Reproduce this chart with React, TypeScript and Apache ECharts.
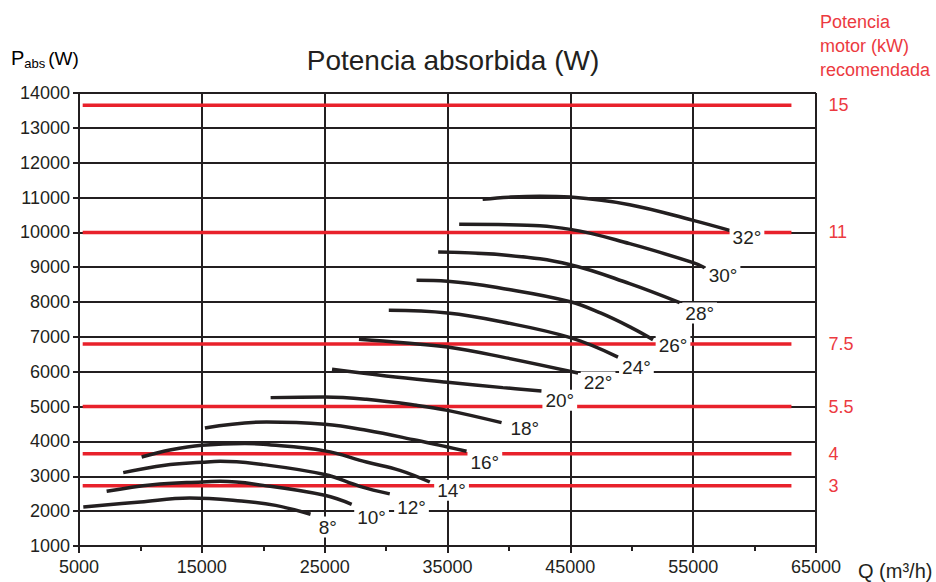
import React, { useEffect, useRef } from 'react';
import * as echarts from 'echarts';

// ---- data ----
const curveNames = ['8°', '10°', '12°', '14°', '16°', '18°', '20°', '22°', '24°', '26°', '28°', '30°', '32°'];

const curve8 = [[5350, 2120], [10000, 2265], [14000, 2375], [18200, 2290], [21000, 2165], [23850, 1910]];
const curve10 = [[7250, 2570], [11000, 2760], [15000, 2840], [16500, 2855], [20000, 2740], [25000, 2455], [27200, 2196]];
const curve12 = [[8600, 3106], [12000, 3320], [15000, 3400], [16500, 3430], [20000, 3335], [25000, 3050], [27860, 2713], [30300, 2495]];
const curve14 = [[10100, 3553], [12500, 3760], [15000, 3889], [18500, 3940], [20000, 3918], [25000, 3730], [28400, 3410], [31120, 3172], [33560, 2836]];
const curve16 = [[15250, 4386], [20270, 4558], [25000, 4492], [28400, 4320], [32480, 4033], [35000, 3840], [36550, 3717]];
const curve18 = [[20600, 5258], [25000, 5275], [28400, 5209], [32480, 5037], [35000, 4893], [39400, 4540]];
const curve20 = [[25600, 6070], [30000, 5880], [35000, 5700], [39500, 5545], [42650, 5447]];
const curve22 = [[27790, 6930], [31400, 6830], [35000, 6710], [39500, 6420], [45630, 5963]];
const curve24 = [[30220, 7762], [35000, 7685], [39500, 7427], [45000, 6979], [48880, 6422]];
const curve26 = [[32480, 8623], [35000, 8600], [40000, 8360], [45000, 8010], [47500, 7680], [50000, 7260], [51730, 6922]];
const curve28 = [[34240, 9435], [40000, 9340], [45000, 9073], [49830, 8528], [53900, 7983]];
const curve30 = [[35950, 10230], [40000, 10220], [45000, 10086], [49830, 9676], [55000, 9131], [55940, 8987]];
const curve32 = [[37860, 10950], [40000, 11010], [42500, 11040], [45000, 11013], [49830, 10795], [55000, 10344], [57970, 10057]];

const curves = [curve8, curve10, curve12, curve14, curve16, curve18, curve20, curve22, curve24, curve26, curve28, curve30, curve32];

// label anchor points (Q, P) for each curve label
const labelPoints = [
  [25260, 1545], [28820, 1832], [32070, 2119], [35330, 2598], [38040, 3410], [41290, 4368],
  [44140, 5180], [47260, 5705], [50380, 6136], [53360, 6758], [55530, 7685], [57430, 8766], [59380, 9865],
];

// recommended motor power (kW) and their absorbed-power levels (W)
const motorPowers = ['15', '11', '7.5', '5.5', '4', '3'];
const motorLevels = [13650, 10000, 6800, 5000, 3650, 2730];
const motorLineQ = [5300, 63000];

const xMin = 5000;
const xMax = 65000;
const xStep = 10000;
const yMin = 1000;
const yMax = 14000;
const yStep = 1000;

const BLACK = '#231f20';
const RED = '#e8212b';
const RED_TEXT = '#ec3a3f';
const FONT = '"Liberation Sans", Arial, Helvetica, sans-serif';

export default function App() {
  const ref = useRef<HTMLDivElement>(null);

  useEffect(() => {
    if (!ref.current) return;
    const chart = echarts.init(ref.current, null, { renderer: 'svg' });

    const redSeries = motorLevels.map((v, i) => ({
      type: 'line',
      data: [[motorLineQ[0], v], [motorLineQ[1], v]],
      symbol: 'none',
      silent: true,
      z: 2,
      lineStyle: { color: RED, width: 3.5 },
      endLabel: {
        show: true,
        formatter: motorPowers[i],
        color: RED_TEXT,
        fontSize: 18,
        fontFamily: FONT,
        distance: 37,
        align: 'left',
      },
    }));

    const curveSeries = curves.map((c, i) => ({
      type: 'line',
      name: curveNames[i],
      data: c,
      smooth: 0.4,
      symbol: 'none',
      silent: true,
      z: 3,
      lineStyle: { color: BLACK, width: 3.5 },
    }));

    const labelSeries = {
      type: 'scatter',
      data: labelPoints.map((p, i) => ({ value: p, name: curveNames[i] })),
      symbolSize: 1,
      itemStyle: { color: 'rgba(255,255,255,0)', opacity: 1 },
      silent: true,
      z: 10,
      label: {
        show: true,
        position: 'inside',
        formatter: '{b}',
        color: BLACK,
        opacity: 1,
        fontSize: 19,
        fontFamily: FONT,
        backgroundColor: '#ffffff',
        padding: [1, 3, 1, 3],
        textBorderWidth: 0,
      },
    };

    chart.setOption({
      animation: false,
      backgroundColor: '#ffffff',
      grid: { left: 79, right: 120, top: 93, bottom: 36, containLabel: false },
      xAxis: {
        type: 'value',
        min: xMin,
        max: xMax,
        interval: xStep,
        axisLine: { show: true, lineStyle: { color: BLACK, width: 2 } },
        axisTick: { show: true, length: 7, lineStyle: { color: BLACK, width: 2 } },
        minorTick: { show: true, splitNumber: 2, length: 5, lineStyle: { color: BLACK, width: 2 } },
        splitLine: { show: true, lineStyle: { color: BLACK, width: 2 } },
        axisLabel: { color: BLACK, fontSize: 18, fontFamily: FONT, margin: 12, formatter: (v: number) => String(v) },
      },
      yAxis: {
        type: 'value',
        min: yMin,
        max: yMax,
        interval: yStep,
        axisLine: { show: true, lineStyle: { color: BLACK, width: 2 } },
        axisTick: { show: true, length: 6, lineStyle: { color: BLACK, width: 2 } },
        splitLine: { show: true, lineStyle: { color: BLACK, width: 2 } },
        axisLabel: { color: BLACK, fontSize: 18, fontFamily: FONT, margin: 9, formatter: (v: number) => String(v) },
      },
      graphic: [
        {
          type: 'text',
          x: 453,
          y: 60,
          style: {
            text: 'Potencia absorbida (W)',
            fill: BLACK,
            font: `28px ${FONT}`,
            align: 'center',
            verticalAlign: 'middle',
          },
        },
        {
          type: 'text',
          x: 11,
          y: 58,
          style: {
            text: '{p|P}{s|abs}{w|(W)}',
            verticalAlign: 'middle',
            rich: {
              p: { fontSize: 20, fontFamily: FONT, color: BLACK },
              s: { fontSize: 13, fontFamily: FONT, color: BLACK, padding: [10, 3, 0, 0] },
              w: { fontSize: 19, fontFamily: FONT, color: BLACK },
            },
          },
        },
        {
          type: 'text',
          x: 858,
          y: 571,
          style: {
            text: 'Q (m³/h)',
            fill: BLACK,
            font: `20px ${FONT}`,
            verticalAlign: 'middle',
          },
        },
        {
          type: 'text',
          x: 820,
          y: 10,
          style: {
            text: 'Potencia\nmotor (kW)\nrecomendada',
            fill: RED_TEXT,
            font: `18px ${FONT}`,
            lineHeight: 24,
            verticalAlign: 'top',
          },
        },
      ],
      series: [...redSeries, ...curveSeries, labelSeries],
    });

    return () => chart.dispose();
  }, []);

  return (
    <div
      ref={ref}
      style={{ position: 'absolute', left: 0, top: 0, width: 936, height: 582, background: '#fff' }}
    />
  );
}
